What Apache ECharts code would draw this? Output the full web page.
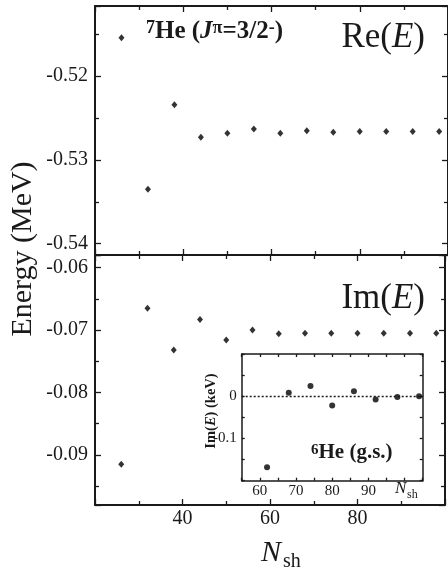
<!DOCTYPE html>
<html>
<head>
<meta charset="utf-8">
<script src="https://cdn.jsdelivr.net/npm/echarts@6/dist/echarts.min.js"></script>
<style>
html, body { margin: 0; padding: 0; background: #fff; }
#chart { width: 448px; height: 571px; }
</style>
</head>
<body>
<div id="chart"></div>
<script>
// 7He 3/2- resonance vs. number of shells
const nShell = [26, 32, 38, 44, 50, 56, 62, 68, 74, 80, 86, 92, 98]
const reEnergy = [-0.5154, -0.5335, -0.5234, -0.5273, -0.5268, -0.5263, -0.5268, -0.5265, -0.5267, -0.5266, -0.5266, -0.5266, -0.5266]
const imEnergy = [-0.0915, -0.0665, -0.0732, -0.0683, -0.0716, -0.0700, -0.0706, -0.0705, -0.0705, -0.0705, -0.0705, -0.0705, -0.0705]

// inset: 6He g.s. imaginary part (keV)
const nShellHe6 = [62, 68, 74, 80, 86, 92, 98, 104]
const imEnergyHe6 = [-0.168, 0.008, 0.024, -0.022, 0.012, -0.008, -0.002, 0.000]

const xTickLabels = [40, 60, 80]
const insetXTickLabels = [60, 70, 80, 90]
const insetYTickLabels = [0, -0.1]

const SERIF = '"Liberation Serif", "Times New Roman", serif'
const INK = '#1a1a1a'

function frameAxis(gridIndex, position, range, o) {
  o = o || {}
  const ax = {
    type: 'value', gridIndex, position,
    min: range[0], max: range[1],
    axisLine: { show: true, onZero: false, lineStyle: { color: INK, width: o.lineWidth || 2 } },
    axisTick: { show: true, inside: true, length: o.tick || 6, lineStyle: { color: INK, width: 1.3 } },
    minorTick: { show: !!o.minor, splitNumber: 2, length: 4, lineStyle: { color: INK, width: 1.3 } },
    splitLine: { show: false },
    axisLabel: { show: false }
  }
  if (o.interval) ax.interval = o.interval
  if (o.splitNumber) ax.splitNumber = o.splitNumber
  if (o.label) ax.axisLabel = Object.assign({ show: true, color: INK, fontFamily: SERIF }, o.label)
  return ax
}

const xRange = [20, 100]
const reRange = [-0.54135, -0.51162]
const imRange = [-0.09804, -0.05798]
const insetX = [55, 105]
const insetY = [-0.2, 0.1]

const mainX = { interval: 20, minor: true }
const yLabel = { fontSize: 20, margin: 7, showMinLabel: false, showMaxLabel: false }

const chart = echarts.init(document.getElementById('chart'))
chart.setOption({
  animation: false,
  grid: [
    { left: 95, top: 6, width: 356, height: 249 },
    { left: 95, top: 255, width: 356, height: 250 },
    { left: 241.7, top: 354, width: 181, height: 126.7, show: true, backgroundColor: '#fff', borderWidth: 0 }
  ],
  xAxis: [
    frameAxis(0, 'bottom', xRange, mainX),
    frameAxis(0, 'top', xRange, mainX),
    frameAxis(1, 'bottom', xRange, Object.assign({
      label: { fontSize: 20, margin: 4, formatter: v => xTickLabels.includes(v) ? String(v) : '' }
    }, mainX)),
    frameAxis(1, 'top', xRange, mainX),
    frameAxis(2, 'bottom', insetX, {
      interval: 5, tick: 3, lineWidth: 1.5,
      label: { fontSize: 15, margin: 3, formatter: v => insetXTickLabels.includes(v) ? String(v) : '' }
    }),
    frameAxis(2, 'top', insetX, { interval: 5, tick: 3, lineWidth: 1.5 })
  ],
  yAxis: [
    frameAxis(0, 'left', reRange, { splitNumber: 3, minor: true, label: yLabel }),
    frameAxis(0, 'right', reRange, { splitNumber: 3, minor: true }),
    frameAxis(1, 'left', imRange, { splitNumber: 4, minor: true, label: yLabel }),
    frameAxis(1, 'right', imRange, { splitNumber: 4, minor: true }),
    frameAxis(2, 'left', insetY, {
      interval: 0.05, tick: 3, lineWidth: 1.5,
      label: {
        fontSize: 15, margin: 5,
        formatter: v => {
          const t = insetYTickLabels.find(t => Math.abs(t - v) < 1e-9)
          return t === undefined ? '' : String(t)
        }
      }
    }),
    frameAxis(2, 'right', insetY, { interval: 0.05, tick: 3, lineWidth: 1.5 })
  ],
  series: [
    {
      type: 'scatter', xAxisIndex: 0, yAxisIndex: 0,
      symbol: 'diamond', symbolSize: [6, 7],
      itemStyle: { color: '#000' },
      data: nShell.map((n, i) => [n, reEnergy[i]])
    },
    {
      type: 'scatter', xAxisIndex: 2, yAxisIndex: 2,
      symbol: 'diamond', symbolSize: [6, 7],
      itemStyle: { color: '#000' },
      data: nShell.map((n, i) => [n, imEnergy[i]])
    },
    {
      type: 'scatter', xAxisIndex: 4, yAxisIndex: 4,
      symbol: 'circle', symbolSize: 6,
      itemStyle: { color: '#000' },
      data: nShellHe6.map((n, i) => [n, imEnergyHe6[i]]),
      markLine: {
        silent: true, symbol: 'none', label: { show: false },
        lineStyle: { color: INK, type: [2, 2], width: 1.3 },
        data: [{ yAxis: 0 }]
      }
    }
  ],
  graphic: [
    {
      type: 'text', x: 23, y: 249, rotation: Math.PI / 2,
      style: { text: 'Energy (MeV)', fontFamily: SERIF, fontSize: 30, fill: INK, align: 'center', verticalAlign: 'middle' }
    },
    {
      type: 'text', x: 261, y: 553,
      style: { text: 'N', fontFamily: SERIF, fontSize: 30, fontStyle: 'italic', fill: INK, align: 'left', verticalAlign: 'middle' }
    },
    {
      type: 'text', x: 283, y: 562,
      style: { text: 'sh', fontFamily: SERIF, fontSize: 20, fill: INK, align: 'left', verticalAlign: 'middle' }
    },
    {
      type: 'text', x: 425, y: 38,
      style: {
        text: '{r|Re(}{i|E}{r|)}', align: 'right', verticalAlign: 'middle',
        rich: {
          r: { fontFamily: SERIF, fontSize: 35, fill: INK },
          i: { fontFamily: SERIF, fontSize: 35, fontStyle: 'italic', fill: INK }
        }
      }
    },
    {
      type: 'text', x: 425, y: 299,
      style: {
        text: '{r|Im(}{i|E}{r|)}', align: 'right', verticalAlign: 'middle',
        rich: {
          r: { fontFamily: SERIF, fontSize: 35, fill: INK },
          i: { fontFamily: SERIF, fontSize: 35, fontStyle: 'italic', fill: INK }
        }
      }
    },
    {
      type: 'text', x: 146, y: 32,
      style: {
        text: '{s|7}{b|He (}{bi|J}{s|π}{b|=3/2}{s|-}{b|)}', align: 'left', verticalAlign: 'middle',
        rich: {
          b: { fontFamily: SERIF, fontSize: 25, fontWeight: 'bold', fill: INK },
          bi: { fontFamily: SERIF, fontSize: 25, fontWeight: 'bold', fontStyle: 'italic', fill: INK },
          s: { fontFamily: SERIF, fontSize: 18, fontWeight: 'bold', fill: INK, verticalAlign: 'top' }
        }
      }
    },
    {
      type: 'text', x: 311, y: 453, z: 10,
      style: {
        text: '{s|6}{b|He (g.s.)}', align: 'left', verticalAlign: 'middle',
        rich: {
          b: { fontFamily: SERIF, fontSize: 21, fontWeight: 'bold', fill: INK },
          s: { fontFamily: SERIF, fontSize: 15, fontWeight: 'bold', fill: INK, verticalAlign: 'top' }
        }
      }
    },
    {
      type: 'text', x: 211, y: 411, rotation: Math.PI / 2, z: 10,
      style: {
        text: '{b|Im(}{bi|E}{b|) (keV)}', align: 'center', verticalAlign: 'middle',
        rich: {
          b: { fontFamily: SERIF, fontSize: 14.5, fontWeight: 'bold', fill: INK },
          bi: { fontFamily: SERIF, fontSize: 14.5, fontWeight: 'bold', fontStyle: 'italic', fill: INK }
        }
      }
    },
    {
      type: 'text', x: 395, y: 489, z: 10,
      style: { text: 'N', fontFamily: SERIF, fontSize: 17, fontStyle: 'italic', fill: INK, align: 'left', verticalAlign: 'middle' }
    },
    {
      type: 'text', x: 407, y: 495, z: 10,
      style: { text: 'sh', fontFamily: SERIF, fontSize: 12, fill: INK, align: 'left', verticalAlign: 'middle' }
    }
  ]
})
</script>
</body>
</html>
